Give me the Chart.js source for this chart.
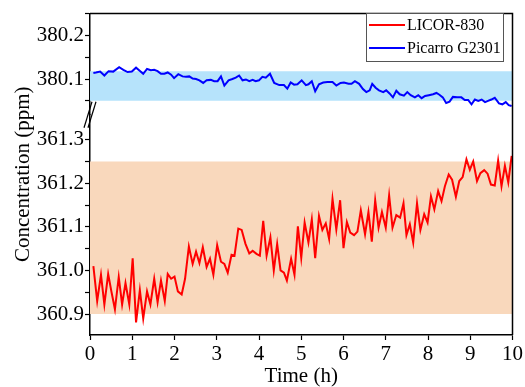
<!DOCTYPE html>
<html>
<head>
<meta charset="utf-8">
<script src="https://cdn.jsdelivr.net/npm/chart.js@4/dist/chart.umd.min.js"></script>
<style>
html, body { margin: 0; padding: 0; background: #fff; }
</style>
</head>
<body>
<canvas id="concChart" width="525" height="387"></canvas>
<script>
// series names
var seriesNames = ['LICOR-830', 'Picarro G2301'];

// LICOR-830 (lower part of the broken axis)
var licorTime = [
    0.08, 0.17, 0.26, 0.34, 0.43, 0.51, 0.59, 0.68, 0.76, 0.84,
    0.93, 1.01, 1.09, 1.18, 1.26, 1.35, 1.43, 1.52, 1.60, 1.68,
    1.77, 1.84, 1.92, 2.00, 2.08, 2.17, 2.25, 2.34, 2.43, 2.51,
    2.59, 2.67, 2.76, 2.84, 2.92, 3.01, 3.10, 3.18, 3.26, 3.35,
    3.42, 3.51, 3.59, 3.68, 3.77, 3.85, 3.94, 4.02, 4.10, 4.18,
    4.27, 4.35, 4.43, 4.51, 4.59, 4.66, 4.76, 4.84, 4.92, 5.00,
    5.08, 5.17, 5.25, 5.33, 5.42, 5.50, 5.58, 5.66, 5.74, 5.83,
    5.92, 6.00, 6.08, 6.16, 6.25, 6.33, 6.41, 6.51, 6.59, 6.67,
    6.75, 6.83, 6.91, 7.00, 7.08, 7.16, 7.25, 7.34, 7.42, 7.49,
    7.57, 7.65, 7.74, 7.82, 7.91, 7.99, 8.07, 8.15, 8.24, 8.32,
    8.40, 8.49, 8.57, 8.66, 8.74, 8.82, 8.91, 8.99, 9.07, 9.16,
    9.24, 9.33, 9.41, 9.49, 9.58, 9.66, 9.74, 9.82, 9.90, 9.98
];
var licorConc = [
    361.010, 360.930, 360.990, 360.922, 360.992, 360.950, 360.911, 360.985, 360.922, 360.971,
    360.922, 361.028, 360.881, 360.955, 360.890, 360.952, 360.922, 360.981, 360.927, 360.977,
    360.930, 360.992, 360.981, 360.986, 360.952, 360.945, 360.981, 361.055, 361.015, 361.043,
    361.017, 361.053, 361.008, 361.027, 360.990, 361.058, 361.020, 361.015, 360.995, 361.036,
    361.034, 361.096, 361.093, 361.061, 361.039, 361.045, 361.038, 361.034, 361.114, 361.034,
    361.076, 361.000, 361.061, 361.000, 360.995, 360.977, 361.027, 360.990, 361.101, 361.029,
    361.110, 361.064, 361.117, 361.028, 361.125, 361.093, 361.108, 361.072, 361.164, 361.094,
    361.161, 361.051, 361.111, 361.087, 361.081, 361.089, 361.138, 361.083, 361.134, 361.066,
    361.161, 361.098, 361.134, 361.098, 361.172, 361.098, 361.127, 361.121, 361.154, 361.081,
    361.106, 361.064, 361.154, 361.093, 361.129, 361.110, 361.170, 361.140, 361.182, 361.159,
    361.193, 361.220, 361.208, 361.169, 361.205, 361.214, 361.255, 361.231, 361.250, 361.205,
    361.223, 361.230, 361.222, 361.197, 361.195, 361.252, 361.193, 361.240, 361.202, 361.263
];

// Picarro G2301 (upper part of the broken axis)
var picarroTime = [
    0.08, 0.14, 0.24, 0.34, 0.44, 0.55, 0.69, 0.79, 0.89, 0.99,
    1.09, 1.19, 1.26, 1.35, 1.44, 1.52, 1.60, 1.68, 1.76, 1.84,
    1.92, 1.99, 2.09, 2.19, 2.27, 2.35, 2.43, 2.51, 2.59, 2.68,
    2.76, 2.86, 2.94, 3.02, 3.10, 3.18, 3.28, 3.37, 3.45, 3.53,
    3.61, 3.69, 3.77, 3.85, 3.92, 4.00, 4.08, 4.16, 4.26, 4.36,
    4.48, 4.59, 4.67, 4.75, 4.83, 4.91, 5.01, 5.11, 5.17, 5.25,
    5.33, 5.42, 5.52, 5.62, 5.74, 5.83, 5.93, 6.01, 6.12, 6.19,
    6.27, 6.37, 6.46, 6.54, 6.62, 6.68, 6.76, 6.84, 6.94, 7.01,
    7.09, 7.17, 7.25, 7.33, 7.43, 7.51, 7.59, 7.69, 7.77, 7.85,
    7.93, 8.02, 8.12, 8.20, 8.27, 8.35, 8.43, 8.51, 8.59, 8.69,
    8.79, 8.87, 8.95, 9.03, 9.11, 9.19, 9.27, 9.35, 9.42, 9.50,
    9.58, 9.68, 9.76, 9.84, 9.91, 9.98
];
var picarroConc = [
    380.114, 380.115, 380.117, 380.108, 380.118, 380.117, 380.127, 380.121, 380.116, 380.117,
    380.126, 380.118, 380.112, 380.123, 380.120, 380.121, 380.118, 380.112, 380.112, 380.115,
    380.110, 380.102, 380.111, 380.106, 380.105, 380.106, 380.101, 380.100, 380.097, 380.091,
    380.097, 380.098, 380.095, 380.095, 380.106, 380.085, 380.097, 380.100, 380.103, 380.108,
    380.097, 380.099, 380.095, 380.098, 380.095, 380.097, 380.105, 380.103, 380.112, 380.091,
    380.086, 380.086, 380.078, 380.092, 380.087, 380.088, 380.097, 380.086, 380.088, 380.095,
    380.072, 380.088, 380.092, 380.093, 380.093, 380.085, 380.091, 380.092, 380.089, 380.089,
    380.095, 380.089, 380.077, 380.070, 380.074, 380.089, 380.080, 380.074, 380.070, 380.074,
    380.067, 380.058, 380.073, 380.065, 380.062, 380.070, 380.063, 380.058, 380.063, 380.056,
    380.061, 380.063, 380.065, 380.068, 380.064, 380.058, 380.045, 380.048, 380.059, 380.058,
    380.058, 380.052, 380.052, 380.042, 380.053, 380.050, 380.053, 380.047, 380.050, 380.053,
    380.057, 380.044, 380.042, 380.047, 380.040, 380.038
];

// shaded ranges [low, high]
var licorBand = [360.9, 361.25];
var picarroBand = [380.05, 380.118];
var timeRange = [0, 10];

// tick values
var xTicks = [0, 1, 2, 3, 4, 5, 6, 7, 8, 9, 10];
var upperTicks = [380.05, 380.1, 380.15, 380.2, 380.25];
var lowerTicks = [360.9, 360.95, 361.0, 361.05, 361.1, 361.15, 361.2, 361.25, 361.3];

var serif = "'Liberation Serif', 'Times New Roman', serif";
Chart.defaults.font.family = serif;
Chart.defaults.font.size = 21;
Chart.defaults.color = '#000';
var tickFont = {family: serif, size: 21};

function toPoints(xs, ys) {
    return xs.map(function (x, i) { return {x: x, y: ys[i]}; });
}

function tickLabel(value) {
    // only every 0.1 gets a label, the 0.05 ones are minor ticks
    var v = Math.round(value * 100);
    return v % 10 === 0 ? value.toFixed(1) : '';
}

function setTicks(list) {
    return function (scale) {
        scale.ticks = list.map(function (v) { return {value: v}; });
    };
}

var yAxisBase = {
    type: 'linear',
    position: 'left',
    stack: 'conc',
    border: {color: '#000', width: 1.5},
    grid: {drawOnChartArea: false, color: '#000', tickLength: 5, tickWidth: 1.2},
    ticks: {padding: 1, autoSkip: false, callback: tickLabel, font: tickFont},
    afterFit: function (scale) { scale.width = 90; }
};

// broken axis marks, frame, y title and legend
var decorations = {
    id: 'decorations',
    afterDraw: function (chart) {
        var ctx = chart.ctx;
        var area = chart.chartArea;
        ctx.save();

        // frame (top and right)
        ctx.strokeStyle = '#000';
        ctx.lineWidth = 1.5;
        ctx.beginPath();
        ctx.moveTo(area.left, area.top);
        ctx.lineTo(area.right, area.top);
        ctx.lineTo(area.right, area.bottom);
        ctx.stroke();

        // break marks
        var by = chart.scales.yTop.bottom;
        var bx = area.left;
        ctx.lineWidth = 1.2;
        [-2, 2].forEach(function (off) {
            ctx.beginPath();
            ctx.moveTo(bx + off + 4, by - 13);
            ctx.lineTo(bx + off - 4, by + 13);
            ctx.stroke();
        });

        // y axis title
        ctx.fillStyle = '#000';
        ctx.font = '21px ' + serif;
        ctx.textAlign = 'center';
        ctx.textBaseline = 'middle';
        ctx.translate(23, (area.top + area.bottom) / 2);
        ctx.rotate(-Math.PI / 2);
        ctx.fillText('Concentration (ppm)', 0, 0);
        ctx.restore();

        // legend
        ctx.save();
        var lx = 366, ly = 13, lw = 137, lh = 48;
        ctx.fillStyle = '#fff';
        ctx.fillRect(lx, ly, lw, lh);
        ctx.strokeStyle = '#555';
        ctx.lineWidth = 1;
        ctx.strokeRect(lx + 0.5, ly + 0.5, lw, lh);
        ctx.font = '16px ' + serif;
        ctx.textBaseline = 'middle';
        ctx.textAlign = 'left';
        for (var i = 0; i < 2; i++) {
            var ds = chart.data.datasets[i];
            var rowY = ly + 12 + i * 23;
            ctx.strokeStyle = ds.borderColor;
            ctx.lineWidth = 2;
            ctx.beginPath();
            ctx.moveTo(lx + 3, rowY);
            ctx.lineTo(lx + 39, rowY);
            ctx.stroke();
            ctx.fillStyle = '#000';
            ctx.fillText(ds.label, lx + 41, rowY + 1);
        }
        ctx.restore();
    }
};

var ctx = document.getElementById('concChart');
var concChart = new Chart(ctx, {
    type: 'line',
    data: {
        datasets: [
            {
                label: seriesNames[0],
                data: toPoints(licorTime, licorConc),
                borderColor: '#ff0000',
                borderWidth: 2,
                pointRadius: 0,
                yAxisID: 'yBot'
            },
            {
                label: seriesNames[1],
                data: toPoints(picarroTime, picarroConc),
                borderColor: '#0000ff',
                borderWidth: 2,
                pointRadius: 0,
                yAxisID: 'yTop'
            },
            {
                label: 'licor band',
                data: toPoints(timeRange, [licorBand[1], licorBand[1]]),
                borderWidth: 0,
                pointRadius: 0,
                backgroundColor: '#f9d8bc',
                fill: {value: licorBand[0]},
                yAxisID: 'yBot'
            },
            {
                label: 'picarro band',
                data: toPoints(timeRange, [picarroBand[1], picarroBand[1]]),
                borderWidth: 0,
                pointRadius: 0,
                backgroundColor: '#b6e3fb',
                fill: {value: picarroBand[0]},
                yAxisID: 'yTop'
            }
        ]
    },
    options: {
        responsive: false,
        animation: false,
        layout: {padding: {left: 0, top: 11, right: 12, bottom: 0}},
        plugins: {
            legend: {display: false},
            tooltip: {enabled: false}
        },
        scales: {
            x: {
                type: 'linear',
                min: 0,
                max: 10,
                border: {color: '#000', width: 1.5},
                grid: {drawOnChartArea: false, color: '#000', tickLength: 5, tickWidth: 1.2},
                ticks: {padding: 2, maxRotation: 0, autoSkip: false, font: tickFont},
                afterBuildTicks: setTicks(xTicks),
                title: {display: true, text: 'Time (h)', font: tickFont, padding: {top: 0, bottom: -2}},
                afterFit: function (scale) { scale.height = 52; }
            },
            // in a stack the axis listed first goes to the bottom
            yBot: Object.assign({}, yAxisBase, {
                min: 360.852,
                max: 361.357,
                stackWeight: 222,
                afterBuildTicks: setTicks(lowerTicks)
            }),
            yTop: Object.assign({}, yAxisBase, {
                min: 380.018,
                max: 380.25,
                stackWeight: 102,
                afterBuildTicks: setTicks(upperTicks)
            })
        }
    },
    plugins: [decorations]
});
</script>
</body>
</html>
